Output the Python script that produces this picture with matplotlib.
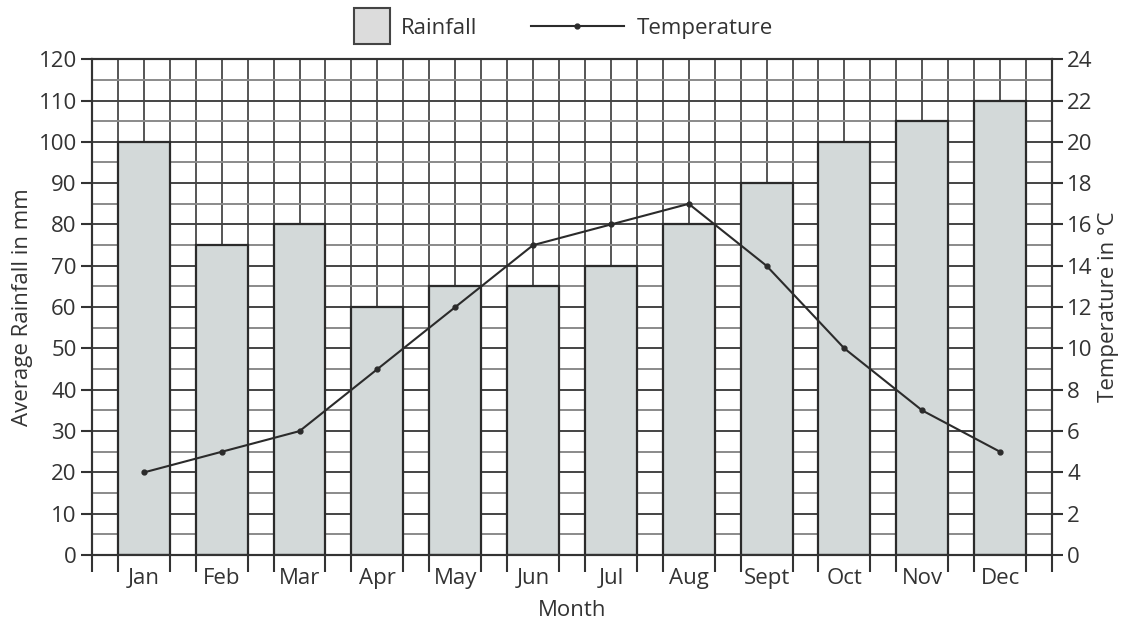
import numpy as np
import matplotlib.pyplot as plt
from matplotlib.lines import Line2D

# Données
months = ["Jan", "Feb", "Mar", "Apr", "May", "Jun", "Jul", "Aug", "Sept", "Oct", "Nov", "Dec"]
rainfall = [100, 75, 80, 60, 65, 65, 70, 80, 90, 100, 105, 110]
temperature = [4, 5, 6, 9, 12, 15, 16, 17, 14, 10, 7, 5]

plt.rcParams['font.family'] = ['Open Sans', 'DejaVu Sans']
text_col = "#333333"
grid_col = "#555555"
fs = 16

fig = plt.figure(figsize=(11.37, 6.23), dpi=100)
ax = fig.add_axes([0.0809, 0.109, 0.8443, 0.796])

# chaque mois occupe 3 colonnes de la grille, barre de 2 colonnes
x = np.arange(len(months)) * 3 + 2

ax.set_xlim(0, 37)
ax.set_ylim(0, 120)

# grille fine
for gx in range(0, 38):
    ax.axvline(gx, color=grid_col, lw=1.4, zorder=0)
for gy in range(0, 121, 5):
    c = "#444444" if gy % 10 == 0 else "#8a8a8a"
    ax.axhline(gy, color=c, lw=1.4, zorder=0)

ax.bar(x, rainfall, width=2, color="#d3d9d9", edgecolor="#2b2b2b", linewidth=1.6, zorder=2)

ax.set_yticks(range(0, 121, 10))
ax.tick_params(axis="y", length=8, width=1.5, color="#333333", labelsize=fs, labelcolor=text_col, pad=3)

# ticks de l'axe x : bords des barres (mineurs), étiquettes au centre
edges = [0, 37] + list(x - 1) + list(x + 1)
ax.set_xticks(x)
ax.set_xticklabels(months)
ax.set_xticks(sorted(edges), minor=True)
ax.tick_params(axis="x", which="major", length=0, labelsize=fs, labelcolor=text_col, pad=9)
ax.tick_params(axis="x", which="minor", length=12, width=1.5, color="#333333")

for s in ax.spines.values():
    s.set_color("#333333")
    s.set_linewidth(1.5)

ax.set_ylabel("Average Rainfall in mm", fontsize=fs, color=text_col, labelpad=4)
ax.set_xlabel("Month", fontsize=fs, color=text_col, labelpad=8)

ax2 = ax.twinx()
ax2.set_ylim(0, 24)
ax2.set_yticks(range(0, 25, 2))
ax2.plot(x, temperature, color="#2b2b2b", lw=1.5, marker="o", markersize=3.5, zorder=3)
ax2.tick_params(axis="y", length=8, width=1.5, color="#333333", labelsize=fs, labelcolor=text_col, pad=3)
ax2.set_ylabel("Temperature in °C", fontsize=fs, color=text_col, labelpad=4)
for s in ax2.spines.values():
    s.set_color("#333333")
    s.set_linewidth(1.5)

# Légende en deux parties (carré pour la pluie, ligne pour la température)
h_rain = Line2D([0], [0], linestyle="none", marker="s", markersize=26, markerfacecolor="#dcdcdc",
                markeredgecolor="#444444", markeredgewidth=1.5, label="Rainfall")
h_temp = Line2D([0], [0], color="#2b2b2b", lw=1.5, marker="o", markersize=3.5, label="Temperature")
fig.legend(handles=[h_rain], loc="center left", bbox_to_anchor=(0.294, 0.955), frameon=False,
           fontsize=fs, labelcolor=text_col, handlelength=1.6, handletextpad=0.5)
fig.legend(handles=[h_temp], loc="center left", bbox_to_anchor=(0.449, 0.955), frameon=False,
           fontsize=fs, labelcolor=text_col, handlelength=4.2, handletextpad=0.6)

plt.savefig("out.png", dpi=100)
plt.close()
